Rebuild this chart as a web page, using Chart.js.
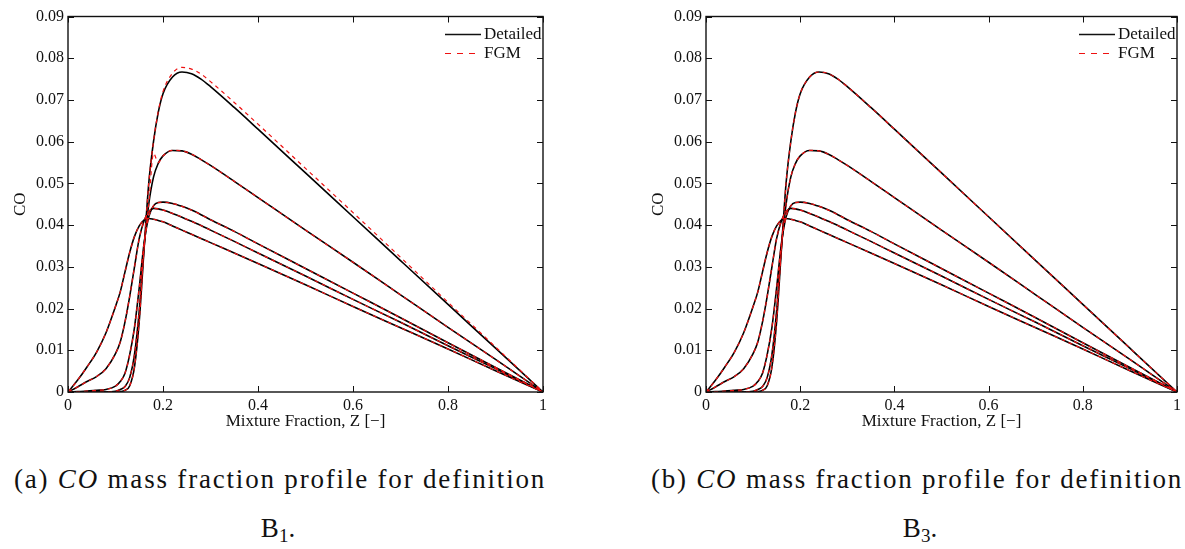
<!DOCTYPE html>
<html>
<head>
<meta charset="utf-8">
<script src="https://cdn.jsdelivr.net/npm/chart.js@4.4.1/dist/chart.umd.min.js"></script>
<style>
  html, body { margin: 0; padding: 0; background: #fff; }
  body { width: 1185px; height: 549px; position: relative; overflow: hidden; }
  canvas { position: absolute; top: 0; }
  .cap { position: absolute; font-family: "Liberation Serif", serif; font-size: 27px; line-height: 30px;
         color: #111; white-space: nowrap; transform: translateX(-50%); }
  .cap sub { font-size: 19px; vertical-align: -5px; line-height: 0; }
</style>
</head>
<body>
<canvas id="chartB1" width="560" height="440" style="left:0px;width:560px;height:440px"></canvas>
<canvas id="chartB3" width="547" height="440" style="left:638px;width:547px;height:440px"></canvas>

<div class="cap fit" style="left:280px;top:464px">(a) <i>CO</i> mass fraction profile for definition</div>
<div class="cap" style="left:278px;top:513px">B<sub>1</sub>.</div>
<div class="cap fit" style="left:917px;top:464px">(b) <i>CO</i> mass fraction profile for definition</div>
<div class="cap" style="left:920px;top:513px">B<sub>3</sub>.</div>

<script>
// mixture fraction grid shared by all profiles
const zGrid = [0, 0.02, 0.04, 0.06, 0.08, 0.10, 0.11, 0.12, 0.13, 0.14, 0.15, 0.16, 0.17, 0.18, 0.19,
  0.20, 0.22, 0.24, 0.26, 0.28, 0.30, 0.35, 0.40, 0.50, 0.60, 0.70, 0.80, 0.90, 1.00];

// detailed chemistry CO profiles (same in both panels)
const detCurve1 = [0, 0, 0, 0, 0, 0, 0.0001, 0.0004, 0.0015, 0.0060, 0.0170, 0.0340, 0.0500, 0.0600, 0.0670,
  0.0715, 0.0755, 0.0767, 0.0763, 0.0750, 0.0732, 0.0682, 0.0630, 0.0525, 0.0420, 0.0315, 0.0210, 0.0105, 0];
const detCurve2 = [0, 0, 0, 0, 0, 0.0002, 0.0006, 0.0013, 0.0035, 0.0090, 0.0195, 0.0345, 0.0450, 0.0515, 0.0548,
  0.0566, 0.0579, 0.0578, 0.0570, 0.0557, 0.0543, 0.0505, 0.0466, 0.0388, 0.0311, 0.0233, 0.0155, 0.0078, 0];
const detCurve3 = [0, 0.0001, 0.0002, 0.0004, 0.0006, 0.0014, 0.0025, 0.0045, 0.0090, 0.0155, 0.0250, 0.0355, 0.0420, 0.0446, 0.0454,
  0.0455, 0.0452, 0.0445, 0.0436, 0.0425, 0.0413, 0.0385, 0.0355, 0.0296, 0.0237, 0.0178, 0.0118, 0.0059, 0];
const detCurve4 = [0, 0.0012, 0.0025, 0.0037, 0.0056, 0.0092, 0.0120, 0.0168, 0.0230, 0.0300, 0.0368, 0.0410, 0.0432, 0.0440, 0.0439,
  0.0436, 0.0428, 0.0419, 0.0409, 0.0399, 0.0388, 0.0361, 0.0333, 0.0278, 0.0222, 0.0167, 0.0111, 0.0056, 0];
const detCurve5 = [0, 0.0028, 0.0060, 0.0095, 0.0142, 0.0205, 0.0240, 0.0288, 0.0335, 0.0373, 0.0398, 0.0412, 0.0416, 0.0414, 0.0411,
  0.0408, 0.0398, 0.0388, 0.0378, 0.0368, 0.0358, 0.0333, 0.0308, 0.0257, 0.0205, 0.0154, 0.0103, 0.0051, 0];

// FGM profiles, definition B1 (the two richest flamelets differ a bit)
const fgmB1Curve1 = [0, 0, 0, 0, 0, 0, 0.0001, 0.0004, 0.0015, 0.0060, 0.0170, 0.0340, 0.0500, 0.0600, 0.0672,
  0.0720, 0.0764, 0.0778, 0.0774, 0.0762, 0.0744, 0.0694, 0.0642, 0.0536, 0.0430, 0.0323, 0.0215, 0.0108, 0];
const fgmB1Curve2 = [0, 0, 0, 0, 0, 0.0002, 0.0006, 0.0013, 0.0035, 0.0090, 0.0195, 0.0345, 0.0450, 0.0572, 0.0550,
  0.0566, 0.0579, 0.0578, 0.0570, 0.0557, 0.0543, 0.0505, 0.0466, 0.0388, 0.0311, 0.0233, 0.0155, 0.0078, 0];

const detailedCurves = [detCurve1, detCurve2, detCurve3, detCurve4, detCurve5];
const fgmB1Curves = [fgmB1Curve1, fgmB1Curve2, detCurve3, detCurve4, detCurve5];
// definition B3 lies on top of the detailed results
const fgmB3Curves = [detCurve1, detCurve2, detCurve3, detCurve4, detCurve5];

const xTickValues = [0, 0.2, 0.4, 0.6, 0.8, 1];
const xTickLabels = ["0", "0.2", "0.4", "0.6", "0.8", "1"];
const yTickValues = [0, 0.01, 0.02, 0.03, 0.04, 0.05, 0.06, 0.07, 0.08, 0.09];
const yTickLabels = ["0", "0.01", "0.02", "0.03", "0.04", "0.05", "0.06", "0.07", "0.08", "0.09"];

const SERIF = "'Liberation Serif', 'Times New Roman', serif";
const INK = "#111";
const FGM_RED = "#ee1111";

function toPoints(curve) {
  return zGrid.map((z, i) => ({ x: z, y: curve[i] }));
}

// box frame + inward ticks on all four sides
const framePlugin = {
  id: "frame",
  afterDraw(chart) {
    const { ctx, chartArea: a, scales } = chart;
    ctx.save();
    ctx.strokeStyle = INK;
    ctx.lineWidth = 1.4;
    ctx.strokeRect(a.left, a.top, a.right - a.left, a.bottom - a.top);
    ctx.lineWidth = 1;
    const len = 6;
    ctx.beginPath();
    xTickValues.forEach((v) => {
      const px = Math.round(scales.x.getPixelForValue(v)) + 0.5;
      ctx.moveTo(px, a.bottom); ctx.lineTo(px, a.bottom - len);
      ctx.moveTo(px, a.top); ctx.lineTo(px, a.top + len);
    });
    yTickValues.forEach((v) => {
      const py = Math.round(scales.y.getPixelForValue(v)) + 0.5;
      ctx.moveTo(a.left, py); ctx.lineTo(a.left + len, py);
      ctx.moveTo(a.right, py); ctx.lineTo(a.right - len, py);
    });
    ctx.stroke();
    ctx.restore();
  },
};

// legend in the upper right corner, matlab style
const cornerLegend = {
  id: "cornerLegend",
  afterDraw(chart) {
    const { ctx, chartArea: a } = chart;
    const rows = [
      { text: "Detailed", color: INK, width: 1.6, dash: [] },
      { text: "FGM", color: FGM_RED, width: 1.2, dash: [6, 6] },
    ];
    ctx.save();
    ctx.font = "17px " + SERIF;
    ctx.textBaseline = "middle";
    rows.forEach((r, i) => {
      const y = a.top + 18 + i * 19;
      ctx.strokeStyle = r.color;
      ctx.lineWidth = r.width;
      ctx.setLineDash(r.dash);
      ctx.beginPath();
      ctx.moveTo(a.right - 98, y);
      ctx.lineTo(a.right - 62, y);
      ctx.stroke();
      ctx.fillStyle = INK;
      ctx.fillText(r.text, a.right - 59, y);
    });
    ctx.restore();
  },
};

function makeChart(canvasId, fgmCurves, padRight) {
  const datasets = [];
  // red dashed first so it is painted above the black lines
  fgmCurves.forEach((c) => {
    datasets.push({
      label: "FGM",
      data: toPoints(c),
      borderColor: FGM_RED,
      borderWidth: 1.2,
      borderDash: [4, 4],
      pointRadius: 0,
      cubicInterpolationMode: "monotone",
    });
  });
  detailedCurves.forEach((c) => {
    datasets.push({
      label: "Detailed",
      data: toPoints(c),
      borderColor: "#000",
      borderWidth: 1.6,
      pointRadius: 0,
      cubicInterpolationMode: "monotone",
    });
  });

  return new Chart(document.getElementById(canvasId), {
    type: "line",
    data: { datasets },
    options: {
      responsive: false,
      animation: false,
      devicePixelRatio: 1,
      layout: { padding: { top: 16.5, right: padRight, bottom: 8, left: 0 } },
      plugins: { legend: { display: false }, tooltip: { enabled: false } },
      scales: {
        x: {
          type: "linear",
          min: 0,
          max: 1,
          afterBuildTicks: (s) => { s.ticks = xTickValues.map((v) => ({ value: v })); },
          afterFit: (s) => { s.height = 40; },
          grid: { display: false, drawTicks: false },
          border: { display: false },
          ticks: {
            autoSkip: false,
            maxRotation: 0,
            padding: 4,
            color: INK,
            font: { family: SERIF, size: 16 },
            callback: (v, i) => xTickLabels[i],
          },
          title: {
            display: true,
            text: "Mixture Fraction, Z [\u2212]",
            color: INK,
            font: { family: SERIF, size: 17 },
            padding: { top: 0, bottom: 0 },
          },
        },
        y: {
          type: "linear",
          min: 0,
          max: 0.09,
          afterBuildTicks: (s) => { s.ticks = yTickValues.map((v) => ({ value: v })); },
          afterFit: (s) => { s.width = 68; },
          grid: { display: false, drawTicks: false },
          border: { display: false },
          ticks: {
            autoSkip: false,
            padding: 4,
            color: INK,
            font: { family: SERIF, size: 16 },
            callback: (v, i) => yTickLabels[i],
          },
          title: {
            display: true,
            text: "CO",
            color: INK,
            font: { family: SERIF, size: 17 },
            padding: { top: 10, bottom: 0 },
          },
        },
      },
    },
    plugins: [framePlugin, cornerLegend],
  });
}

makeChart("chartB1", fgmB1Curves, 17);
makeChart("chartB3", fgmB3Curves, 8);

// stretch the caption lines to the width of the LaTeX captions
document.querySelectorAll(".cap.fit").forEach((el) => {
  const target = 532;
  const w = el.getBoundingClientRect().width;
  const n = el.textContent.length;
  el.style.letterSpacing = ((target - w) / n).toFixed(2) + "px";
});
</script>
</body>
</html>
